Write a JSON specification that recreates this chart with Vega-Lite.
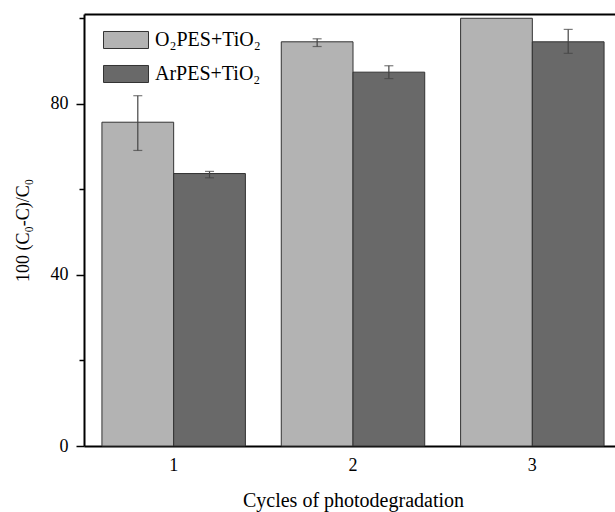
{
  "$schema": "https://vega.github.io/schema/vega-lite/v6.json",
  "width": 531,
  "height": 432,
  "autosize": {"type": "none"},
  "padding": {"left": 84, "top": 14, "right": 0, "bottom": 66},
  "background": "white",
  "config": {
    "view": {"stroke": null},
    "font": "Liberation Serif",
    "axis": {"grid": false, "labelColor": "black", "titleColor": "black", "titleFontWeight": "normal", "labelFont": "Liberation Serif", "titleFont": "Liberation Serif"}
  },
  "data": {
    "values": [
      {"cycle": "1", "sample": "O₂PES+TiO₂", "value": 75.7, "lo": 69.1, "hi": 81.9},
      {"cycle": "1", "sample": "ArPES+TiO₂", "value": 63.7, "lo": 62.7, "hi": 64.2},
      {"cycle": "2", "sample": "O₂PES+TiO₂", "value": 94.5, "lo": 93.4, "hi": 95.2},
      {"cycle": "2", "sample": "ArPES+TiO₂", "value": 87.4, "lo": 85.9, "hi": 88.9},
      {"cycle": "3", "sample": "O₂PES+TiO₂", "value": 100.0, "lo": null, "hi": null},
      {"cycle": "3", "sample": "ArPES+TiO₂", "value": 94.5, "lo": 91.8, "hi": 97.4}
    ]
  },
  "resolve": {"axis": {"x": "independent"}},
  "layer": [
    {
      "mark": {"type": "bar", "stroke": "#333333", "strokeWidth": 1},
      "encoding": {
        "x": {
          "field": "cycle", "type": "nominal",
          "scale": {"range": [0, 538], "paddingInner": 0.2, "paddingOuter": 0.1},
          "axis": {"title": "Cycles of photodegradation", "labelAngle": 0, "ticks": false, "domainColor": "black", "domainWidth": 2, "labelFontSize": 18, "labelPadding": 10, "titleFontSize": 20, "titlePadding": 16}
        },
        "xOffset": {"field": "sample", "type": "nominal", "sort": ["O₂PES+TiO₂", "ArPES+TiO₂"]},
        "y": {
          "field": "value", "type": "quantitative",
          "title": "100 (C₀-C)/C₀",
          "scale": {"domain": [0, 101], "nice": false},
          "axis": {
            "values": [0, 20, 40, 60, 80, 100],
            "labelExpr": "datum.value % 40 === 0 ? datum.label : ''",
            "tickSize": {"condition": {"test": "datum.value % 40 === 0", "value": 8}, "value": 5},
            "domainColor": "black", "domainWidth": 2, "tickColor": "black", "tickWidth": 1.5,
            "labelFontSize": 18, "labelPadding": 8, "titleFontSize": 18, "titlePadding": 18
          }
        },
        "color": {
          "field": "sample", "type": "nominal",
          "scale": {"domain": ["O₂PES+TiO₂", "ArPES+TiO₂"], "range": ["#b3b3b3", "#696969"]},
          "legend": {
            "orient": "none", "legendX": 19, "legendY": 3, "title": null,
            "symbolType": "M-1,-0.378H1V0.378H-1Z", "symbolSize": 2025,
            "symbolStrokeColor": "#333333", "symbolStrokeWidth": 1, "symbolOpacity": 1,
            "labelFontSize": 20, "labelFont": "Liberation Serif", "labelColor": "black",
            "labelOffset": 6, "rowPadding": -14
          }
        }
      }
    },
    {
      "transform": [{"filter": "datum.hi != null"}],
      "mark": {"type": "rule", "color": "#444444", "strokeWidth": 1.2},
      "encoding": {
        "x": {"field": "cycle", "type": "nominal", "axis": {"orient": "top", "labels": false, "ticks": false, "title": null, "domainColor": "black", "domainWidth": 2}},
        "xOffset": {"field": "sample", "type": "nominal", "sort": ["O₂PES+TiO₂", "ArPES+TiO₂"]},
        "y": {"field": "lo", "type": "quantitative", "title": "100 (C₀-C)/C₀"},
        "y2": {"field": "hi"}
      }
    },
    {
      "transform": [{"filter": "datum.hi != null"}],
      "mark": {"type": "tick", "color": "#444444", "thickness": 1.2, "size": 9},
      "encoding": {
        "x": {"field": "cycle", "type": "nominal", "axis": null},
        "xOffset": {"field": "sample", "type": "nominal", "sort": ["O₂PES+TiO₂", "ArPES+TiO₂"]},
        "y": {"field": "lo", "type": "quantitative", "title": "100 (C₀-C)/C₀"}
      }
    },
    {
      "transform": [{"filter": "datum.hi != null"}],
      "mark": {"type": "tick", "color": "#444444", "thickness": 1.2, "size": 9},
      "encoding": {
        "x": {"field": "cycle", "type": "nominal", "axis": null},
        "xOffset": {"field": "sample", "type": "nominal", "sort": ["O₂PES+TiO₂", "ArPES+TiO₂"]},
        "y": {"field": "hi", "type": "quantitative", "title": "100 (C₀-C)/C₀"}
      }
    }
  ]
}
